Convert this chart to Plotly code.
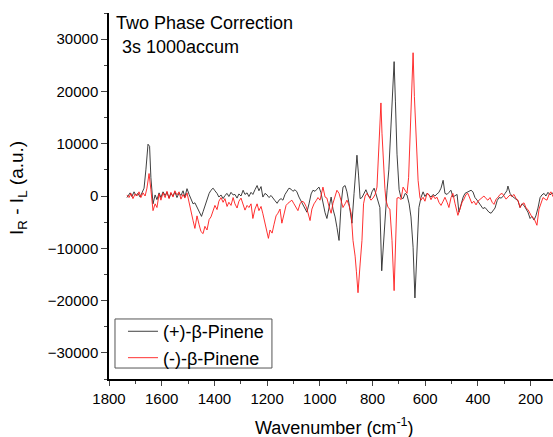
import plotly.graph_objects as go

# (+)-beta-Pinene (black trace)
wn_plus = [1732, 1720, 1713, 1705, 1698, 1690, 1682, 1675, 1667, 1660, 1652, 1646, 1641, 1633, 1625, 1618,
           1610, 1603, 1595, 1587, 1580, 1572, 1565, 1557, 1550, 1542, 1534, 1527, 1519, 1512, 1504, 1496,
           1489, 1481, 1474, 1466, 1458, 1449, 1443, 1436, 1428, 1420, 1413, 1405, 1398, 1390, 1383, 1375,
           1367, 1360, 1352, 1345, 1337, 1329, 1322, 1314, 1307, 1299, 1291, 1284, 1276, 1269, 1261, 1254,
           1246, 1238, 1231, 1223, 1216, 1208, 1200, 1193, 1185, 1178, 1170, 1162, 1155, 1147, 1140, 1132,
           1124, 1117, 1109, 1102, 1094, 1087, 1079, 1071, 1064, 1056, 1049, 1041, 1033, 1026, 1018, 1011,
           1003, 996, 988, 980, 973, 965, 957, 950, 942, 935, 927, 919, 912, 904, 897, 889,
           878, 870, 865, 859, 853, 847, 840, 832, 825, 817, 809, 802, 794, 787, 779, 772,
           765, 760, 753, 745, 738, 730, 724, 718, 713, 707, 699, 692, 684, 676, 669, 661,
           654, 646, 639, 631, 624, 616, 608, 601, 593, 586, 578, 570, 563, 555, 548, 540,
           532, 525, 517, 510, 502, 495, 487, 479, 472, 464, 456, 449, 441, 434, 426, 419,
           411, 403, 396, 388, 381, 373, 365, 358, 350, 343, 335, 327, 320, 312, 305, 297,
           290, 286, 278, 271, 263, 255, 248, 240, 233, 225, 217, 210, 202, 195, 187, 180,
           172, 164, 157, 149, 142, 134, 126, 119, 111]
int_plus = [-300, 600, -100, 800, 100, 500, -200, 600, 1500, 5000, 9900, 9500, 3500, -1500, 200, -700,
            600, -300, 800, 100, 700, -400, 500, 0, 800, -300, 600, 100, 1000, -200, 1400, 300,
            -600, -1500, -1300, -2200, -3000, -3900, -3000, -1900, -700, 500, 1100, 1500, 1000, 500, -200, 200,
            -500, 100, 500, -100, 700, 200, 300, -400, 400, 0, 1100, 300, 600, -100, 700, 300,
            1200, 2000, 1000, 1800, -200, 500, 200, -300, 100, -500, -900, -1400, -800, -500, -800, 300,
            900, 1500, 1300, 900, 1200, 800, -200, -1000, -1400, -2300, -3100, -1500, 400, 1100, 900, 1300,
            1700, 700, -1400, -3200, -4300, -2000, -200, -2500, -4000, -6000, -8500, -1500, 1700, 2000, 800, -1500,
            -5200, 500, 4300, 7800, 4000, -500, -300, 600, 1200, 200, -400, 800, 1500, 400, -800, -2200,
            -14300, -9900, -3500, 1000, 5000, 13000, 21000, 25700, 18000, 8000, 1200, -300, -500, 500, 200, -1500,
            -4000, -9800, -19500, -8500, -2200, -300, 800, -100, 500, 200, -200, 300, 0, 400, 700, 1500,
            3000, 500, 300, 700, 1100, -200, 100, 300, -3100, -1500, -200, 500, 700, 1000, 1100, 800,
            -300, -800, -1400, -2000, -2400, -2200, -2600, -3100, -3300, -2800, -2300, -900, -300, -400, -100, 500,
            1000, 1900, 500, 0, -300, -600, -900, -2200, -1500, -1800, -2500, -3100, -4300, -3900, -4600, -3800,
            -2300, -300, 200, 500, 0, 700, 200, 600, 300]

# (-)-beta-Pinene (red trace)
wn_minus = [1732, 1724, 1717, 1709, 1701, 1694, 1686, 1679, 1671, 1663, 1656, 1648, 1641, 1633, 1625, 1618,
            1610, 1603, 1595, 1587, 1580, 1572, 1565, 1557, 1550, 1542, 1534, 1527, 1519, 1512, 1504, 1496,
            1489, 1481, 1474, 1466, 1458, 1451, 1443, 1436, 1428, 1420, 1413, 1405, 1398, 1390, 1383, 1375,
            1367, 1360, 1352, 1345, 1337, 1329, 1322, 1314, 1307, 1299, 1291, 1284, 1276, 1269, 1261, 1254,
            1246, 1238, 1231, 1223, 1216, 1208, 1200, 1195, 1189, 1181, 1174, 1166, 1159, 1151, 1144, 1136,
            1128, 1121, 1113, 1106, 1098, 1090, 1083, 1075, 1068, 1060, 1052, 1045, 1037, 1030, 1022, 1014,
            1007, 999, 992, 988, 980, 973, 965, 957, 950, 942, 935, 927, 919, 912, 904, 897,
            889, 881, 874, 866, 861, 855, 847, 840, 834, 828, 821, 813, 806, 798, 790, 783,
            775, 768, 764, 760, 753, 749, 741, 734, 726, 718, 713, 707, 699, 692, 684, 676,
            669, 663, 658, 652, 646, 641, 635, 627, 620, 616, 608, 601, 593, 586, 578, 570,
            563, 555, 548, 540, 532, 525, 517, 510, 502, 495, 487, 479, 476, 468, 460, 453,
            445, 438, 430, 423, 415, 407, 400, 392, 384, 377, 369, 362, 354, 346, 339, 331,
            323, 316, 308, 301, 293, 286, 278, 271, 263, 255, 248, 240, 233, 225, 217, 210,
            202, 195, 187, 180, 176, 168, 161, 153, 145, 138, 130, 123, 115, 108]
int_minus = [200, -300, 500, -500, 400, 0, 800, -300, 600, 0, 1500, 4300, 1200, -2800, -1500, -2200,
             400, -800, 600, -300, 900, -500, 700, -200, 1000, 200, 800, -600, 300, -400, 600, -1500,
             -2800, -4700, -6200, -3800, -5500, -6800, -7200, -5800, -6500, -4500, -4000, -2800, -1800, -2600, -1000, -300,
             -1200, -500, -2000, -1200, -1800, -300, -1500, -2300, -1000, -400, -1600, -2700, -1800, -2200, -1500, -4300,
             -2500, -1500, -2800, -2000, -3400, -5000, -7000, -8100, -6500, -7100, -5500, -3800, -3300, -2500, -5200, -3500,
             -1800, -1400, -1000, -800, -1500, -2200, -2800, -1500, -1000, -1200, -2000, -3200, -4700, -2500, -1500, -900,
             -300, -800, 500, 1700, -200, -400, -2000, -3300, -1400, -200, 1100, 500, -800, -2200, -1500, -800,
             -1800, -3300, -8500, -11500, -14500, -18500, -13000, -8500, -1500, 0, 500, -200, -800, -400, 300, 1700,
             10700, 17800, 12000, 7400, 1500, -800, -2200, -2500, -8500, -18100, -10000, -400, -300, -700, 1700, 1100,
             500, 3500, 10700, 19000, 27400, 19000, 10700, 3000, -300, -800, -250, -1000, 500, 300, -700, 100,
             -500, -250, -1200, -1800, -1000, -250, -1200, -2200, -300, 500, -1400, -2800, -3700, -2500, -1200, -600,
             300, 500, -600, -1400, -1000, -1700, -1000, -600, -400, 0, -500, -800, -300, -1200, -1600, -600,
             -200, 300, 500, -100, -600, -200, 200, -100, 300, -500, -800, -2200, -1600, -1300, -2300, -2600,
             -3300, -4000, -4300, -5000, -5600, -2500, -1400, -300, -600, -800, 300, 800, -100, 400]

series_names = ["(+)-β-Pinene", "(-)-β-Pinene"]
x_ticks = [1800, 1600, 1400, 1200, 1000, 800, 600, 400, 200]
y_ticks = [-30000, -20000, -10000, 0, 10000, 20000, 30000]

FONT = "Liberation Sans, Arial, sans-serif"

fig = go.Figure()
fig.add_trace(go.Scatter(x=wn_plus, y=int_plus, mode="lines", name=series_names[0],
                         line=dict(color="#2a2a2a", width=0.9)))
fig.add_trace(go.Scatter(x=wn_minus, y=int_minus, mode="lines", name=series_names[1],
                         line=dict(color="#ff1a1a", width=0.9)))

fig.update_layout(
    width=553, height=437,
    margin=dict(l=109, r=0, t=13, b=58),
    paper_bgcolor="white", plot_bgcolor="white",
    font=dict(family=FONT, size=15, color="black"),
    showlegend=True,
    legend=dict(x=0.0315, y=0.008, xanchor="left", yanchor="bottom",
                bgcolor="rgba(0,0,0,0)", borderwidth=0,
                font=dict(size=18, family=FONT), tracegroupgap=0),
    xaxis=dict(range=[1800, 115], tickvals=x_ticks, ticks="outside", ticklen=5, tickwidth=1.2,
               showline=True, linecolor="black", linewidth=1.5, showgrid=False, zeroline=False,
               mirror=False, tickfont=dict(size=15),
               minor=dict(dtick=100, ticks="outside", ticklen=3, tickwidth=1, showgrid=False)),
    yaxis=dict(range=[-35000, 35000], tickvals=y_ticks, tickformat="d", ticks="outside", ticklen=6,
               tickwidth=1.2, showline=True, linecolor="black", linewidth=1.5, showgrid=False,
               zeroline=False, mirror=False, tickfont=dict(size=15),
               minor=dict(dtick=5000, ticks="outside", ticklen=3, tickwidth=1, showgrid=False)),
)

# legend frame
fig.add_shape(type="rect", xref="paper", yref="paper", x0=0.0135, x1=0.367, y0=0.030, y1=0.164,
              line=dict(color="#555555", width=1), fillcolor="white", layer="above")

# axis titles
fig.add_annotation(text="Wavenumber (cm<sup>-1</sup>)", xref="paper", yref="paper",
                   x=0.507, y=-0.131, xanchor="center", yanchor="middle", showarrow=False,
                   font=dict(size=18, family=FONT))
fig.add_annotation(text="I<sub>R</sub> - I<sub>L</sub> (a.u.)", xref="paper", yref="paper",
                   x=-0.205, y=0.522, xanchor="center", yanchor="middle", textangle=-90,
                   showarrow=False, font=dict(size=19, family=FONT))

# header text
fig.add_annotation(text="Two Phase Correction", xref="paper", yref="paper",
                   x=0.012, y=1.006, xanchor="left", yanchor="top", showarrow=False,
                   font=dict(size=18, family=FONT))
fig.add_annotation(text="3s 1000accum", xref="paper", yref="paper",
                   x=0.025, y=0.94, xanchor="left", yanchor="top", showarrow=False,
                   font=dict(size=18, family=FONT))

fig.write_html("out.html")
